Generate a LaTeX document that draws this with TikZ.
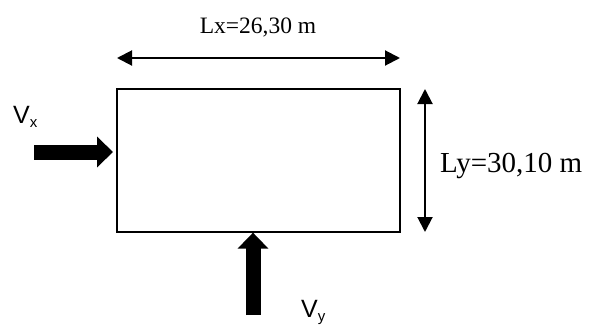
\documentclass[tikz,border=0pt]{standalone}
\usepackage{fontspec}
\setmainfont{Liberation Serif}
\setsansfont{Liberation Sans}
\usetikzlibrary{arrows.meta}
\newcommand{\mysub}[1]{\raisebox{-4pt}{\fontsize{15}{15}\selectfont #1}}
\tikzset{
  dimline/.style={line width=2pt,{Triangle[length=15pt,width=15pt]}-{Triangle[length=15pt,width=15pt]}},
  force/.style={line width=15pt,-{Triangle[length=16pt,width=30pt]}},
  wall/.style={draw,line width=1.3pt,minimum width=283pt,minimum height=143pt,inner sep=0pt},
  vlabel/.style={font=\sffamily\fontsize{25}{27}\selectfont,anchor=base west,inner sep=0pt},
}
\begin{document}
\begin{tikzpicture}[x=1pt,y=-1pt]
\useasboundingbox (0,0) rectangle (603,327);
\node[wall] (box) at (258.5,160.5) {};
\node[font=\fontsize{23.5}{25}\selectfont,anchor=base,inner sep=0pt] (lx) at (258,33) {Lx=26,30 m};
\node[font=\fontsize{29}{31}\selectfont,anchor=base west,inner sep=0pt] (ly) at (440,172) {Ly=30,10 m};
\coordinate (lxa) at (117,58);
\coordinate (lxb) at (400,58);
\draw[dimline] (lxa) -- (lxb);
\coordinate (lya) at (425,89);
\coordinate (lyb) at (425,232);
\draw[dimline] (lya) -- (lyb);
\node[vlabel] (vx) at (13,123) {V\mysub{x}};
\node[vlabel] (vy) at (301,317) {V\mysub{y}};
\coordinate (vxs) at (34,152);
\coordinate (vxt) at (113,152);
\draw[force] (vxs) -- (vxt);
\coordinate (vys) at (253,315);
\draw[force] (vys) -- (vys |- box.south);
\end{tikzpicture}
\end{document}
